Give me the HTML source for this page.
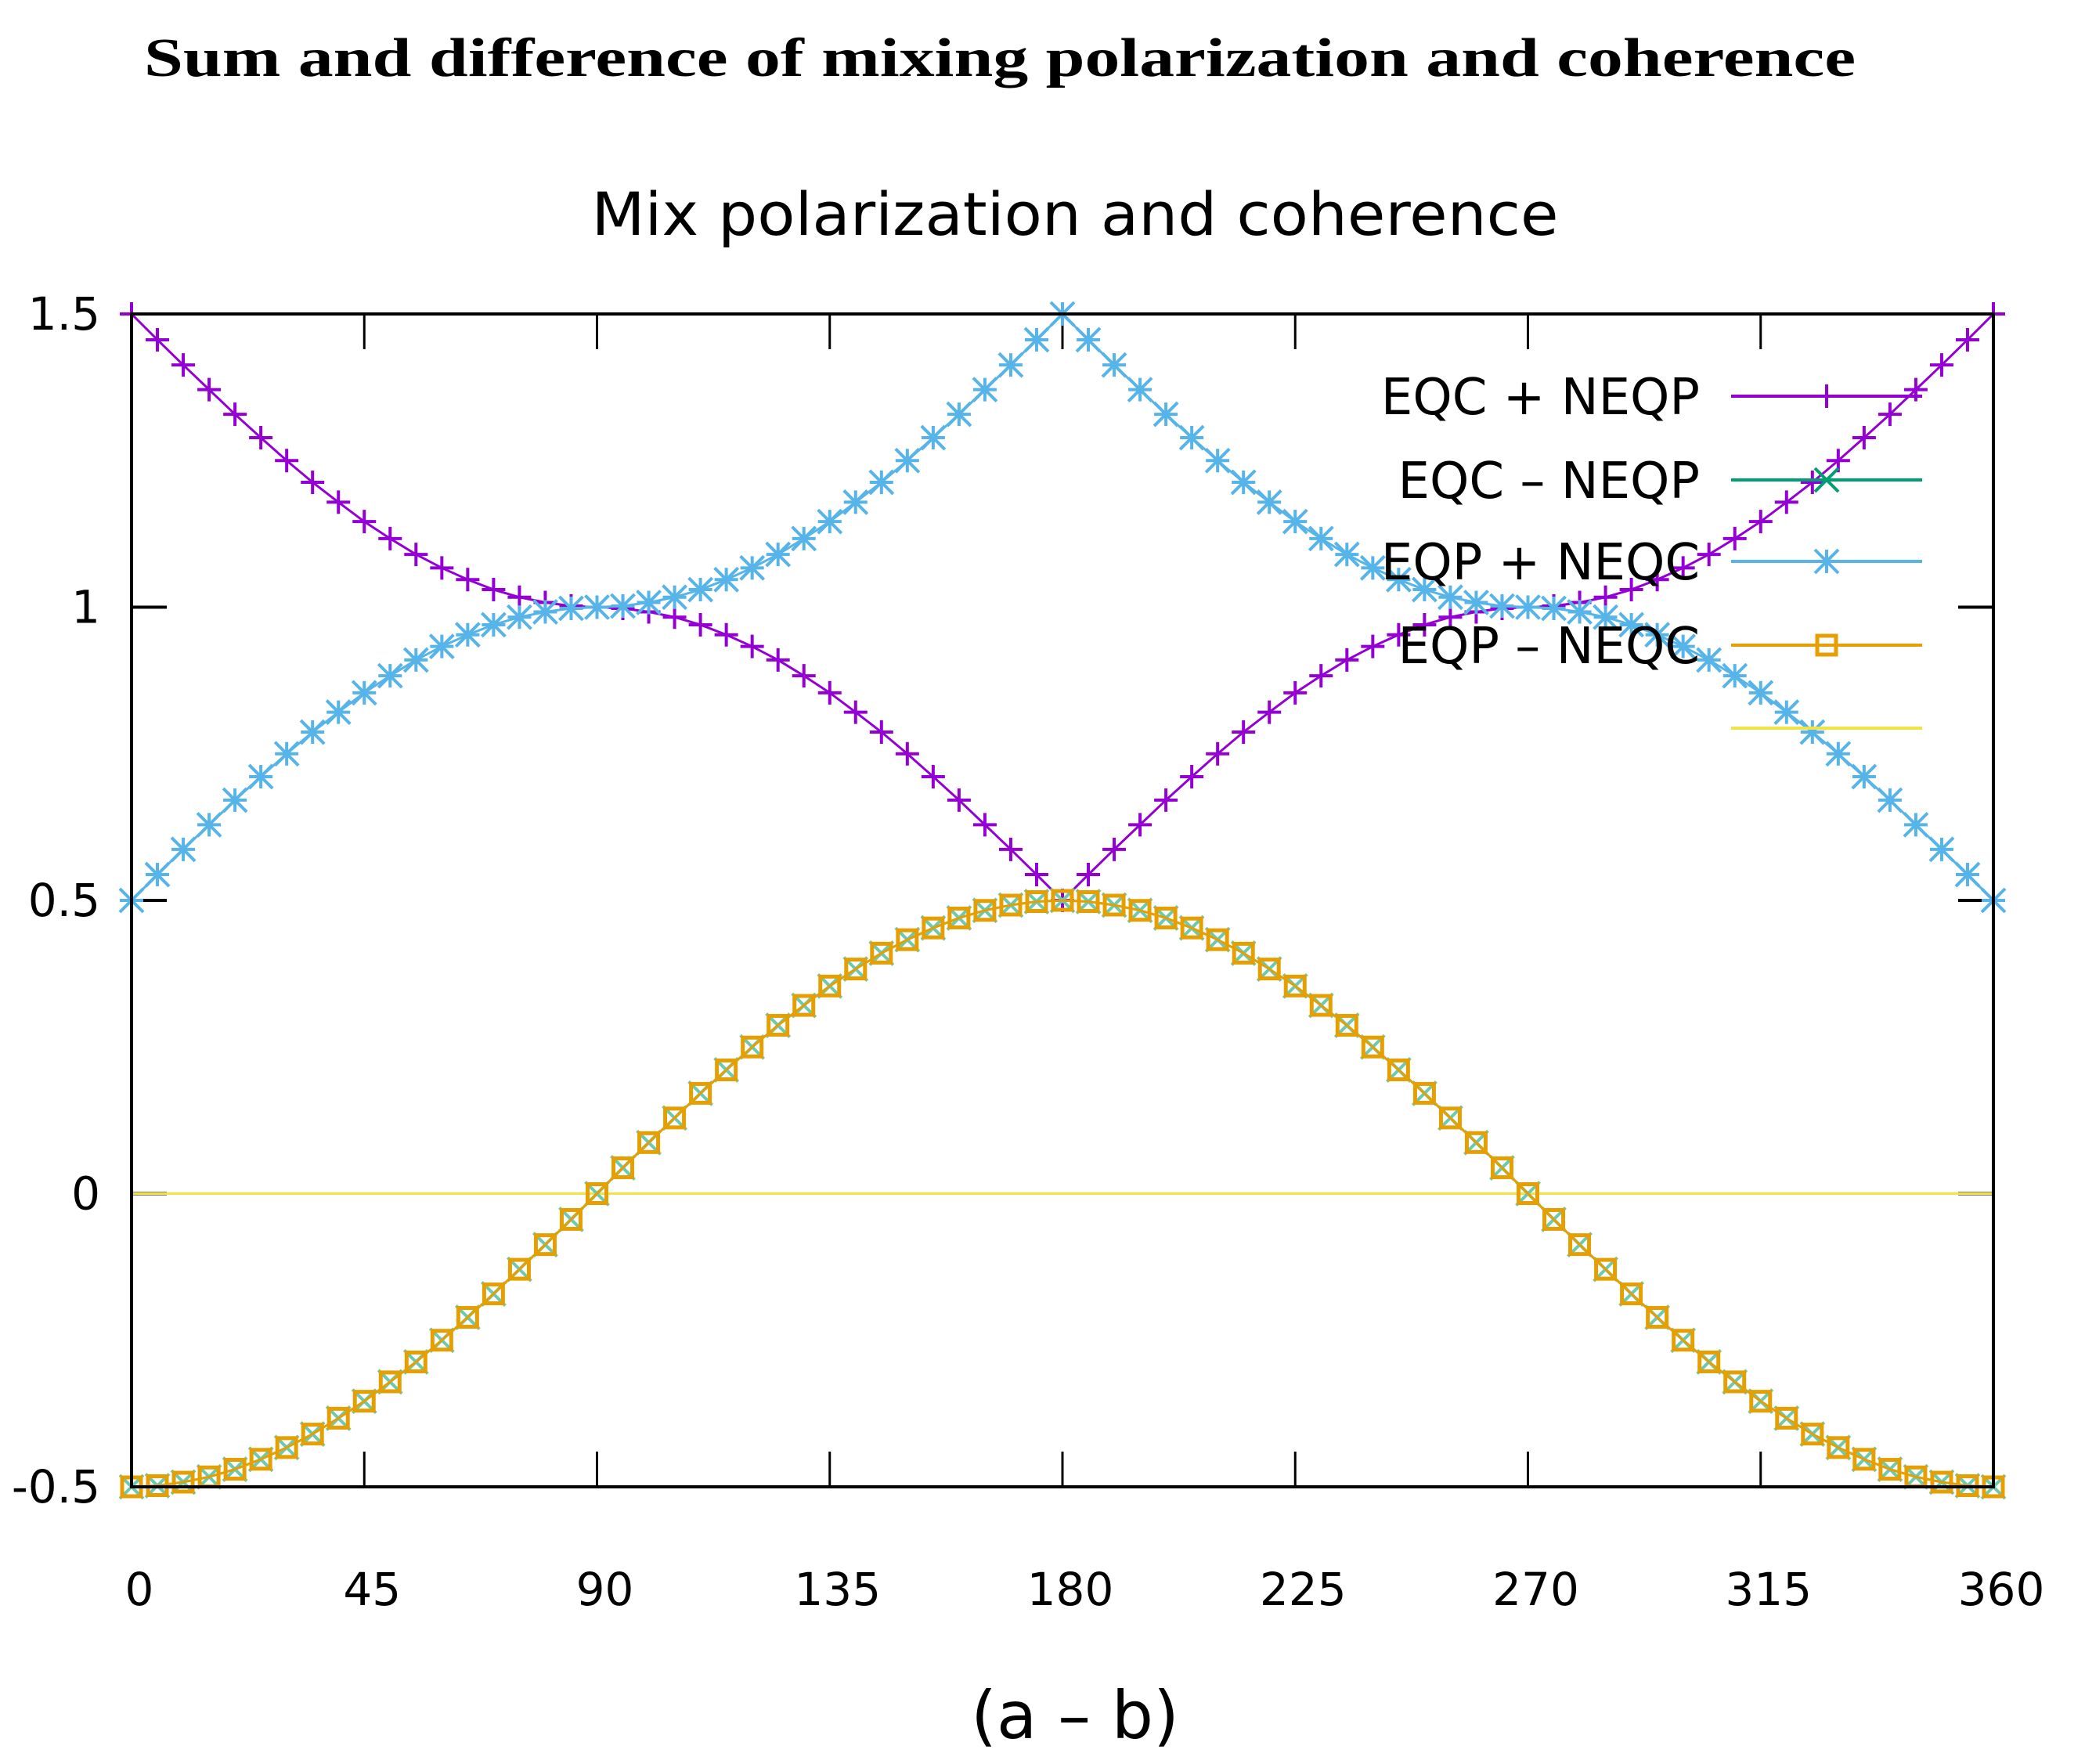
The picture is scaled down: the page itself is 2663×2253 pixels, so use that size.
<!DOCTYPE html>
<html><head><meta charset="utf-8"><style>
html,body{margin:0;padding:0;background:#fff}
svg{display:block}
</style></head><body>
<svg id="chart" width="2663" height="2253" xmlns="http://www.w3.org/2000/svg">
<rect x="0" y="0" width="2663" height="2253" fill="#fff"/>
<text x="184" y="97" font-family="Liberation Serif, serif" font-weight="bold" font-size="70" textLength="2186" lengthAdjust="spacingAndGlyphs">Sum and difference of mixing polarization and coherence</text>
<text x="1373" y="300" text-anchor="middle" font-family="DejaVu Sans, sans-serif" font-size="76" textLength="1235" lengthAdjust="spacingAndGlyphs">Mix polarization and coherence</text>
<g id="grid"></g>
<g id="series"></g>
<rect x="168" y="401" width="2378" height="1498" fill="none" stroke="#000" stroke-width="4"/>
<g id="legend"></g>
<text x="1373" y="2220" text-anchor="middle" font-family="DejaVu Sans, sans-serif" font-size="84">(a – b)</text>
</svg>
<script>
const xTicks=[0,45,90,135,180,225,270,315,360];
const yTicks=[1.5,1,0.5,0,-0.5];
const yTickLabels=['1.5','1','0.5','0','-0.5'];
const angles=[0,5,10,15,20,25,30,35,40,45,50,55,60,65,70,75,80,85,90,95,100,105,110,115,120,125,130,135,140,145,150,155,160,165,170,175,180,185,190,195,200,205,210,215,220,225,230,235,240,245,250,255,260,265,270,275,280,285,290,295,300,305,310,315,320,325,330,335,340,345,350,355,360];
const eqcPlusNeqp=[1.5,1.456,1.413,1.371,1.329,1.289,1.25,1.213,1.179,1.146,1.117,1.090,1.067,1.047,1.030,1.017,1.008,1.002,1,0.998,0.992,0.983,0.970,0.953,0.933,0.910,0.883,0.854,0.821,0.787,0.75,0.711,0.671,0.629,0.587,0.544,0.5,0.544,0.587,0.629,0.671,0.711,0.75,0.787,0.821,0.854,0.883,0.910,0.933,0.953,0.970,0.983,0.992,0.998,1,1.002,1.008,1.017,1.030,1.047,1.067,1.090,1.117,1.146,1.179,1.213,1.25,1.289,1.329,1.371,1.413,1.456,1.5];
const eqpPlusNeqc=[0.5,0.544,0.587,0.629,0.671,0.711,0.75,0.787,0.821,0.854,0.883,0.910,0.933,0.953,0.970,0.983,0.992,0.998,1,1.002,1.008,1.017,1.030,1.047,1.067,1.090,1.117,1.146,1.179,1.213,1.25,1.289,1.329,1.371,1.413,1.456,1.5,1.456,1.413,1.371,1.329,1.289,1.25,1.213,1.179,1.146,1.117,1.090,1.067,1.047,1.030,1.017,1.008,1.002,1,0.998,0.992,0.983,0.970,0.953,0.933,0.910,0.883,0.854,0.821,0.787,0.75,0.711,0.671,0.629,0.587,0.544,0.5];
const eqcMinusNeqp=[-0.5,-0.498,-0.492,-0.483,-0.470,-0.453,-0.433,-0.410,-0.383,-0.354,-0.321,-0.287,-0.25,-0.211,-0.171,-0.129,-0.087,-0.044,0,0.044,0.087,0.129,0.171,0.211,0.25,0.287,0.321,0.354,0.383,0.410,0.433,0.453,0.470,0.483,0.492,0.498,0.5,0.498,0.492,0.483,0.470,0.453,0.433,0.410,0.383,0.354,0.321,0.287,0.25,0.211,0.171,0.129,0.087,0.044,0,-0.044,-0.087,-0.129,-0.171,-0.211,-0.25,-0.287,-0.321,-0.354,-0.383,-0.410,-0.433,-0.453,-0.470,-0.483,-0.492,-0.498,-0.5];
const eqpMinusNeqc=[-0.5,-0.498,-0.492,-0.483,-0.470,-0.453,-0.433,-0.410,-0.383,-0.354,-0.321,-0.287,-0.25,-0.211,-0.171,-0.129,-0.087,-0.044,0,0.044,0.087,0.129,0.171,0.211,0.25,0.287,0.321,0.354,0.383,0.410,0.433,0.453,0.470,0.483,0.492,0.498,0.5,0.498,0.492,0.483,0.470,0.453,0.433,0.410,0.383,0.354,0.321,0.287,0.25,0.211,0.171,0.129,0.087,0.044,0,-0.044,-0.087,-0.129,-0.171,-0.211,-0.25,-0.287,-0.321,-0.354,-0.383,-0.410,-0.433,-0.453,-0.470,-0.483,-0.492,-0.498,-0.5];
const zeroLine=[0,0];
const zeroX=[0,360];
const legendLabels=['EQC + NEQP','EQC – NEQP','EQP + NEQC','EQP – NEQC',''];

const NS='http://www.w3.org/2000/svg';
const L=168,R=2546,T=401,B=1899;
function sx(v){return L+(v-0)/(360-0)*(R-L);}
function sy(v){return B-(v-(-0.5))/(1.5-(-0.5))*(B-T);}
function mk(tag,attrs,parent){const e=document.createElementNS(NS,tag);for(const k in attrs)e.setAttribute(k,attrs[k]);parent.appendChild(e);return e;}
const grid=document.getElementById('grid');
const ser=document.getElementById('series');
const leg=document.getElementById('legend');

xTicks.forEach(function(t){
  const x=sx(t);
  let a=mk('line',{x1:x,y1:B,x2:x,y2:B-45,stroke:'#000','stroke-width':3},grid);
  
  
  let b=mk('line',{x1:x,y1:T,x2:x,y2:T+45,stroke:'#000','stroke-width':3},grid);
  
  
  let tx=mk('text',{x:x+10,y:2050,'text-anchor':'middle','font-family':'DejaVu Sans, sans-serif','font-size':58},grid);
  tx.textContent=String(t);
  
  
});
yTicks.forEach(function(t,i){
  const y=sy(t);
  let a=mk('line',{x1:L,y1:y,x2:L+45,y2:y,stroke:'#000','stroke-width':4},grid);
  
  
  let b=mk('line',{x1:R,y1:y,x2:R-45,y2:y,stroke:'#000','stroke-width':4},grid);
  
  
  let tx=mk('text',{x:128,y:y+20,'text-anchor':'end','font-family':'DejaVu Sans, sans-serif','font-size':58},grid);
  tx.textContent=yTickLabels[i];
  
  
});

function drawMarker(type,x,y,color,g){
  const s=15;
  if(type==='plus'){
    mk('path',{d:`M${x-s},${y}H${x+s}M${x},${y-s}V${y+s}`,stroke:color,'stroke-width':4,fill:'none'},g);
  }else if(type==='x'){
    mk('path',{d:`M${x-s},${y-s}L${x+s},${y+s}M${x-s},${y+s}L${x+s},${y-s}`,stroke:color,'stroke-width':4,fill:'none'},g);
  }else if(type==='star'){
    mk('path',{d:`M${x-s},${y}H${x+s}M${x},${y-s}V${y+s}M${x-s},${y-s}L${x+s},${y+s}M${x-s},${y+s}L${x+s},${y-s}`,stroke:color,'stroke-width':4,fill:'none'},g);
  }else if(type==='square'){
    mk('rect',{x:x-12,y:y-12,width:24,height:24,stroke:color,'stroke-width':5,fill:'none'},g);
  }
}
function drawSeries(name,xs,ys,color,marker){
  const g=mk('g',{},ser);
  
  
  const pts=xs.map(function(v,i){return sx(v)+','+sy(ys[i]);}).join(' ');
  const pl=mk('polyline',{points:pts,fill:'none',stroke:color,'stroke-width':3},g);
  
  
  if(marker){xs.forEach(function(v,i){drawMarker(marker,sx(v),sy(ys[i]),color,g);});}
}
drawSeries('series-eqc-plus-neqp',angles,eqcPlusNeqp,'#9400d3','plus');
drawSeries('series-eqp-plus-neqc',angles,eqpPlusNeqc,'#56b4e9','star');
drawSeries('series-zero-line',zeroX,zeroLine,'#f0e442',null);
drawSeries('series-eqc-minus-neqp',angles,eqcMinusNeqp,'#6cc9b0','x');
drawSeries('series-eqp-minus-neqc',angles,eqpMinusNeqc,'#e69f00','square');

const legColors=['#9400d3','#009e73','#56b4e9','#e69f00','#f0e442'];
const legMarkers=['plus','x','star','square',null];
const legY=[506,613,717,824,930];
legendLabels.forEach(function(lab,i){
  const g=mk('g',{},leg);
  
  
  const t=mk('text',{x:2171,y:legY[i]+23,'text-anchor':'end','font-family':'DejaVu Sans, sans-serif','font-size':64},g);
  t.textContent=lab;
  mk('line',{x1:2211,y1:legY[i],x2:2455,y2:legY[i],stroke:legColors[i],'stroke-width':4},g);
  if(legMarkers[i])drawMarker(legMarkers[i],2333,legY[i],legColors[i],g);
});
</script>
</body></html>
